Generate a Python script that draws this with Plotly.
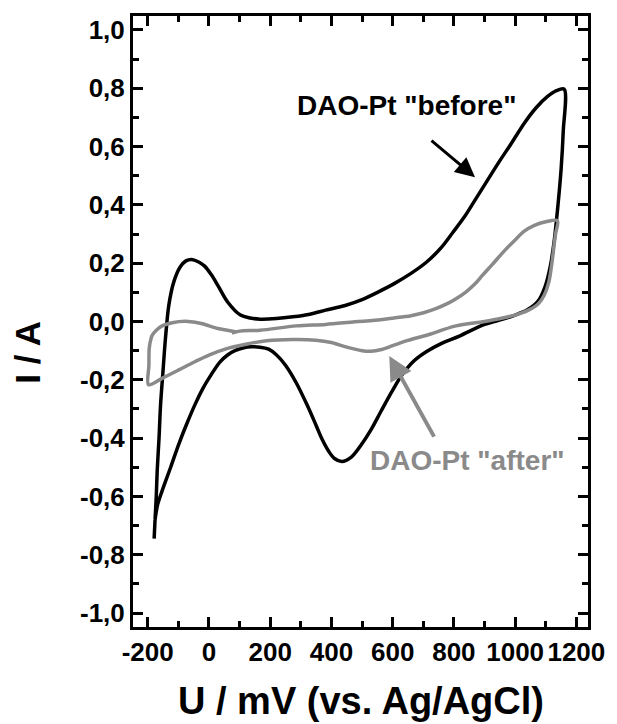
import plotly.graph_objects as go

# ---- data ----
before_u = [-179, -176, -172, -169, -163, -158, -150, -142, -131, -115, -94, -75, -57, -35, -14, 8, 29, 61, 103, 135, 167, 220, 274, 330, 381, 445, 500, 552, 605, 660, 711, 760, 797, 835, 871, 910, 946, 990, 1031, 1070, 1106, 1135, 1160,
            1157, 1150, 1140, 1128, 1115, 1098, 1075, 1040, 1000, 960, 900, 818, 760, 711, 670, 626, 595, 562, 530, 498, 465, 434, 410, 391, 370, 349, 320, 285, 250, 221, 195, 167, 140, 114, 85, 61, 35, 7, -20, -46, -72, -99, -125, -153, -168, -176]
before_i = [-0.745, -0.68, -0.60, -0.513, -0.40, -0.286, -0.17, -0.058, 0.056, 0.135, 0.187, 0.208, 0.213, 0.205, 0.19, 0.16, 0.124, 0.067, 0.022, 0.012, 0.008, 0.01, 0.016, 0.025, 0.039, 0.055, 0.075, 0.101, 0.13, 0.165, 0.204, 0.255, 0.306, 0.36, 0.42, 0.485, 0.545, 0.615, 0.682, 0.735, 0.772, 0.792, 0.797,
            0.65, 0.52, 0.40, 0.28, 0.19, 0.12, 0.07, 0.04, 0.022, 0.008, -0.01, -0.05, -0.075, -0.103, -0.135, -0.19, -0.245, -0.308, -0.37, -0.422, -0.465, -0.48, -0.47, -0.445, -0.405, -0.354, -0.285, -0.21, -0.15, -0.115, -0.095, -0.088, -0.087, -0.09, -0.10, -0.115, -0.14, -0.183, -0.23, -0.286, -0.35, -0.422, -0.50, -0.581, -0.63, -0.68]

after_u = [75, 100, 167, 285, 381, 477, 541, 605, 660, 701, 743, 780, 807, 839, 870, 893, 925, 967, 1000, 1030, 1063, 1100, 1138,
           1132, 1127, 1120, 1110, 1095, 1075, 1042, 1000, 967, 900, 807, 711, 650, 600, 560, 530, 500, 450, 400, 349, 274, 189, 120, 61, 0, -46, -100, -153, -197,
           -196, -195, -190, -185, -170, -153, -120, -78, -50, -25, 29, 60, 90]
after_i = [-0.04, -0.033, -0.03, -0.015, -0.01, -0.001, 0.004, 0.012, 0.02, 0.03, 0.045, 0.062, 0.078, 0.101, 0.13, 0.158, 0.195, 0.245, 0.28, 0.31, 0.33, 0.342, 0.346,
           0.30, 0.26, 0.20, 0.135, 0.09, 0.06, 0.038, 0.022, 0.014, 0.0, -0.015, -0.047, -0.065, -0.083, -0.097, -0.102, -0.100, -0.088, -0.072, -0.064, -0.062, -0.066, -0.078, -0.092, -0.115, -0.138, -0.167, -0.195, -0.217,
           -0.15, -0.092, -0.062, -0.047, -0.028, -0.015, -0.004, 0.001, -0.002, -0.007, -0.024, -0.03, -0.036]

x_ticks = [-200, 0, 200, 400, 600, 800, 1000, 1200]
x_ticktext = ["-200", "0", "200", "400", "600", "800", "1000", "1200"]
x_minor = [-100, 100, 300, 500, 700, 900, 1100]
y_ticks = [-1.0, -0.8, -0.6, -0.4, -0.2, 0.0, 0.2, 0.4, 0.6, 0.8, 1.0]
y_ticktext = ["-1,0", "-0,8", "-0,6", "-0,4", "-0,2", "0,0", "0,2", "0,4", "0,6", "0,8", "1,0"]
y_minor = [-0.9, -0.7, -0.5, -0.3, -0.1, 0.1, 0.3, 0.5, 0.7, 0.9]

FONT = "Arial, 'Liberation Sans', sans-serif"
GRAY = "#8a8a8a"

fig = go.Figure()
fig.add_trace(go.Scatter(x=before_u, y=before_i, mode="lines",
                         line=dict(color="black", width=3.5, shape="spline", smoothing=0.9),
                         showlegend=False, hoverinfo="skip"))
fig.add_trace(go.Scatter(x=after_u, y=after_i, mode="lines",
                         line=dict(color=GRAY, width=3.5, shape="spline", smoothing=0.9),
                         showlegend=False, hoverinfo="skip"))

axis_common = dict(showgrid=False, zeroline=False, showline=True, linecolor="black", linewidth=3,
                   mirror="allticks", ticks="inside", ticklen=10, tickwidth=3, tickcolor="black",
                   tickfont=dict(family=FONT, size=26, color="black", weight="bold"))

fig.update_xaxes(range=[-248, 1238], tickmode="array", tickvals=x_ticks, ticktext=x_ticktext,
                 minor=dict(tickmode="array", tickvals=x_minor, ticks="inside", ticklen=6, tickwidth=3, tickcolor="black"),
                 **axis_common)
fig.update_yaxes(range=[-1.048, 1.048], tickmode="array", tickvals=y_ticks, ticktext=y_ticktext,
                 minor=dict(tickmode="array", tickvals=y_minor, ticks="inside", ticklen=6, tickwidth=3, tickcolor="black"),
                 **axis_common)

annotations = [
    dict(x=869, y=0.495, ax=722, ay=0.625, xref="x", yref="y", axref="x", ayref="y",
         showarrow=True, arrowhead=2, arrowsize=1.3, arrowwidth=3, arrowcolor="black", text=""),
    dict(x=589, y=-0.118, ax=738, ay=-0.40, xref="x", yref="y", axref="x", ayref="y",
         showarrow=True, arrowhead=2, arrowsize=1.2, arrowwidth=4, arrowcolor=GRAY, text=""),
    dict(x=646, y=0.74, xref="x", yref="y", text='DAO-Pt "before"', showarrow=False,
         font=dict(family=FONT, size=28, color="black", weight="bold"), xanchor="center", yanchor="middle"),
    dict(x=845, y=-0.478, xref="x", yref="y", text='DAO-Pt "after"', showarrow=False,
         font=dict(family=FONT, size=28, color=GRAY, weight="bold"), xanchor="center", yanchor="middle"),
    dict(x=0.501, y=-0.121, xref="paper", yref="paper", text="U / mV (vs. Ag/AgCl)", showarrow=False,
         font=dict(family=FONT, size=38, color="black", weight="bold"), xanchor="center", yanchor="middle"),
    dict(x=-0.2335, y=0.45, xref="paper", yref="paper", text="I / A", showarrow=False, textangle=-90,
         font=dict(family=FONT, size=35, color="black", weight="bold"), xanchor="center", yanchor="middle"),
]

fig.update_layout(width=617, height=724, margin=dict(l=133, r=19, t=16, b=97),
                  plot_bgcolor="white", paper_bgcolor="white", annotations=annotations)

fig.write_html("out.html")
